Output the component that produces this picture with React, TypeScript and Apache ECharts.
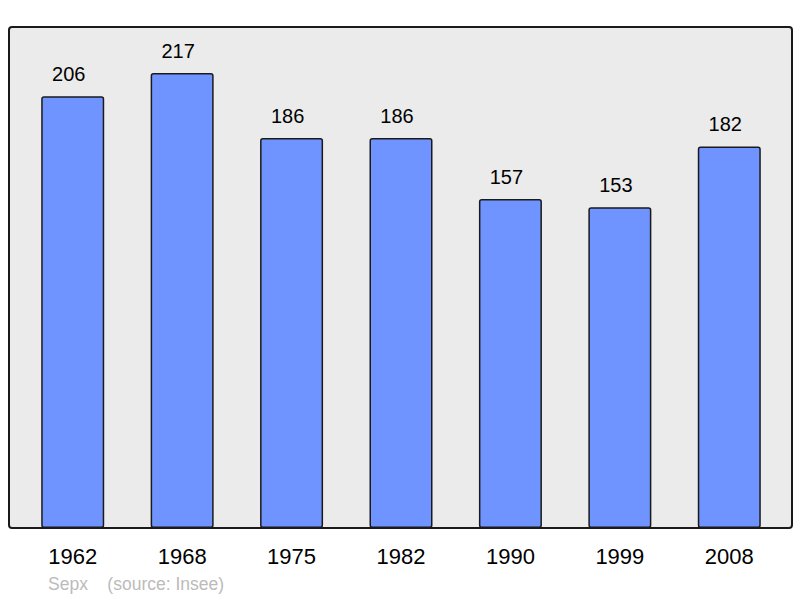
import React, { useEffect, useRef } from "react";
import * as echarts from "echarts";

const years = ["1962", "1968", "1975", "1982", "1990", "1999", "2008"];
const population = [206, 217, 186, 186, 157, 153, 182];
const footerText = "Sepx    (source: Insee)";

export default function App() {
  const ref = useRef<HTMLDivElement>(null);
  useEffect(() => {
    if (!ref.current) return;
    const chart = echarts.init(ref.current, null, { renderer: "svg" });
    chart.setOption({
      animation: false,
      backgroundColor: "#ffffff",
      textStyle: { fontFamily: "Liberation Sans, Arial, sans-serif" },
      graphic: [
        {
          type: "rect",
          z: -10,
          shape: { x: 9, y: 27, width: 783, height: 501, r: 3 },
          style: { fill: "#ebebeb", stroke: "#1a1a1a", lineWidth: 2 },
        },
        {
          type: "text",
          left: 48,
          top: 575,
          style: {
            text: footerText,
            fill: "#bbbbbb",
            font: "17.5px Liberation Sans, Arial, sans-serif",
          },
        },
      ],
      grid: { left: 18, right: 16, top: 27, bottom: 70 },
      xAxis: {
        type: "category",
        data: years,
        axisLine: { show: false },
        axisTick: { show: false },
        axisLabel: {
          color: "#000",
          fontSize: 22,
          margin: 17,
          fontFamily: "Liberation Sans, Arial, sans-serif",
        },
      },
      yAxis: {
        type: "value",
        min: 0,
        max: 239,
        show: false,
        splitLine: { show: false },
      },
      series: [
        {
          type: "bar",
          data: population,
          barWidth: 63,
          itemStyle: {
            color: "#7094ff",
            borderColor: "#1a1a1a",
            borderWidth: 1.5,
            borderRadius: 2,
          },
          label: {
            show: true,
            position: "top",
            distance: 12,
            offset: [-4, 0],
            color: "#000",
            fontSize: 20,
            fontFamily: "Liberation Sans, Arial, sans-serif",
          },
        },
      ],
    });
    return () => chart.dispose();
  }, []);
  return <div ref={ref} style={{ width: 800, height: 598, position: "absolute", left: 0, top: 0 }} />;
}
